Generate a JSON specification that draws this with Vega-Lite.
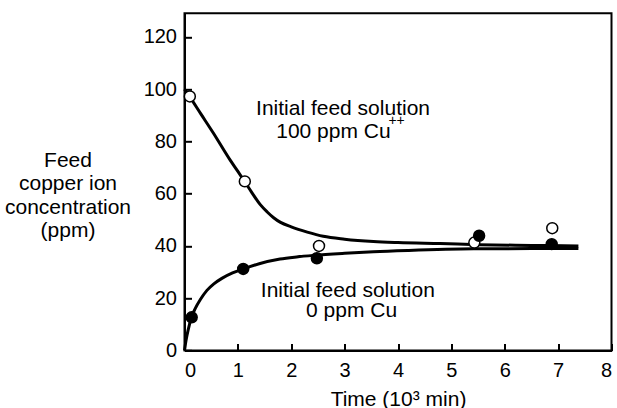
{
  "$schema": "https://vega.github.io/schema/vega-lite/v6.json",
  "autosize": {"type": "none"},
  "padding": {"left": 184.5, "top": 13.3, "right": 5.5, "bottom": 57.5},
  "width": 427,
  "height": 337.2,
  "background": "white",
  "config": {
    "font": "Liberation Sans",
    "view": {"stroke": "black", "strokeWidth": 2},
    "axis": {
      "grid": false,
      "domainColor": "black",
      "domainWidth": 2,
      "tickColor": "black",
      "tickWidth": 2,
      "tickSize": -7,
      "labelColor": "black",
      "labelFontSize": 20,
      "labelFont": "Liberation Sans",
      "titleFont": "Liberation Sans",
      "titleFontSize": 21,
      "titleFontWeight": "normal",
      "titleColor": "black"
    }
  },
  "datasets": {
    "curves": [
      {"t": 0, "c": 100, "series": "100 ppm"},
      {"t": 0.1, "c": 97, "series": "100 ppm"},
      {"t": 0.3, "c": 90.7, "series": "100 ppm"},
      {"t": 0.54, "c": 83.2, "series": "100 ppm"},
      {"t": 0.85, "c": 73, "series": "100 ppm"},
      {"t": 1.0, "c": 68.5, "series": "100 ppm"},
      {"t": 1.13, "c": 64.5, "series": "100 ppm"},
      {"t": 1.25, "c": 60.8, "series": "100 ppm"},
      {"t": 1.42, "c": 55.8, "series": "100 ppm"},
      {"t": 1.55, "c": 53.0, "series": "100 ppm"},
      {"t": 1.67, "c": 50.8, "series": "100 ppm"},
      {"t": 1.8, "c": 49.0, "series": "100 ppm"},
      {"t": 2.0, "c": 47.3, "series": "100 ppm"},
      {"t": 2.3, "c": 45.3, "series": "100 ppm"},
      {"t": 2.6, "c": 43.7, "series": "100 ppm"},
      {"t": 3.0, "c": 42.6, "series": "100 ppm"},
      {"t": 3.54, "c": 41.7, "series": "100 ppm"},
      {"t": 4.0, "c": 41.3, "series": "100 ppm"},
      {"t": 4.79, "c": 40.9, "series": "100 ppm"},
      {"t": 5.5, "c": 40.5, "series": "100 ppm"},
      {"t": 6.5, "c": 40.2, "series": "100 ppm"},
      {"t": 7.38, "c": 40.0, "series": "100 ppm"},
      {"t": 0, "c": 0, "series": "0 ppm"},
      {"t": 0.03, "c": 4, "series": "0 ppm"},
      {"t": 0.07, "c": 8, "series": "0 ppm"},
      {"t": 0.13, "c": 12.7, "series": "0 ppm"},
      {"t": 0.2, "c": 16, "series": "0 ppm"},
      {"t": 0.3, "c": 19.6, "series": "0 ppm"},
      {"t": 0.42, "c": 23, "series": "0 ppm"},
      {"t": 0.55, "c": 25.5, "series": "0 ppm"},
      {"t": 0.7, "c": 27.6, "series": "0 ppm"},
      {"t": 0.9, "c": 29.7, "series": "0 ppm"},
      {"t": 1.1, "c": 31.2, "series": "0 ppm"},
      {"t": 1.4, "c": 33.2, "series": "0 ppm"},
      {"t": 1.79, "c": 35, "series": "0 ppm"},
      {"t": 2.1, "c": 35.8, "series": "0 ppm"},
      {"t": 2.42, "c": 36.4, "series": "0 ppm"},
      {"t": 3.0, "c": 37.2, "series": "0 ppm"},
      {"t": 3.54, "c": 37.8, "series": "0 ppm"},
      {"t": 4.2, "c": 38.3, "series": "0 ppm"},
      {"t": 5.42, "c": 38.9, "series": "0 ppm"},
      {"t": 6.5, "c": 39, "series": "0 ppm"},
      {"t": 7.38, "c": 39, "series": "0 ppm"}
    ],
    "points": [
      {"t": 0.1, "c": 97.2, "series": "100 ppm"},
      {"t": 1.13, "c": 64.7, "series": "100 ppm"},
      {"t": 2.52, "c": 40.0, "series": "100 ppm"},
      {"t": 5.43, "c": 41.3, "series": "100 ppm"},
      {"t": 6.89, "c": 46.8, "series": "100 ppm"},
      {"t": 0.135, "c": 12.7, "series": "0 ppm"},
      {"t": 1.1, "c": 31.2, "series": "0 ppm"},
      {"t": 2.48, "c": 35.3, "series": "0 ppm"},
      {"t": 5.52, "c": 43.9, "series": "0 ppm"},
      {"t": 6.88, "c": 40.7, "series": "0 ppm"}
    ],
    "labels": [
      {"t": 2.97, "c": 90.2, "label": "Initial feed solution"},
      {"t": 2.79, "c": 81.2, "label": "100 ppm Cu"},
      {"t": 3.06, "c": 20.6, "label": "Initial feed solution"},
      {"t": 3.13, "c": 12.9, "label": "0 ppm Cu"}
    ],
    "sup": [
      {"t": 3.82, "c": 86.3, "label": "++"}
    ]
  },
  "layer": [
    {
      "data": {"name": "curves"},
      "mark": {"type": "line", "color": "black", "strokeWidth": 3, "interpolate": "monotone"},
      "encoding": {
        "x": {
          "field": "t", "type": "quantitative",
          "scale": {"domain": [0, 8], "nice": false},
          "axis": {
            "values": [0, 1, 2, 3, 4, 5, 6, 7, 8],
            "labelPadding": 17,
            "title": "Time (10³ min)",
            "titleBaseline": "alphabetic",
            "titleY": 54.5
          }
        },
        "y": {
          "field": "c", "type": "quantitative",
          "scale": {"domain": [0, 129], "nice": false},
          "axis": {
            "values": [0, 20, 40, 60, 80, 100, 120],
            "labelPadding": 15,
            "title": ["Feed", "copper ion", "concentration", "(ppm)"],
            "titleAngle": 0,
            "titleAlign": "center",
            "titleBaseline": "alphabetic",
            "titleLineHeight": 23.5,
            "titleX": -117,
            "titleY": 152.7
          }
        },
        "detail": {"field": "series"}
      }
    },
    {
      "data": {"name": "points"},
      "mark": {"type": "point", "filled": true, "size": 120, "stroke": "black", "strokeWidth": 1.5, "opacity": 1},
      "encoding": {
        "x": {"field": "t", "type": "quantitative"},
        "y": {"field": "c", "type": "quantitative"},
        "fill": {
          "field": "series", "type": "nominal",
          "scale": {"domain": ["0 ppm", "100 ppm"], "range": ["black", "white"]},
          "legend": null
        }
      }
    },
    {
      "data": {"name": "labels"},
      "mark": {"type": "text", "fontSize": 21, "align": "center", "baseline": "alphabetic", "color": "black", "font": "Liberation Sans"},
      "encoding": {
        "x": {"field": "t", "type": "quantitative"},
        "y": {"field": "c", "type": "quantitative"},
        "text": {"field": "label"}
      }
    },
    {
      "data": {"name": "sup"},
      "mark": {"type": "text", "fontSize": 14, "align": "left", "baseline": "alphabetic", "color": "black", "font": "Liberation Sans"},
      "encoding": {
        "x": {"field": "t", "type": "quantitative"},
        "y": {"field": "c", "type": "quantitative"},
        "text": {"field": "label"}
      }
    }
  ]
}
